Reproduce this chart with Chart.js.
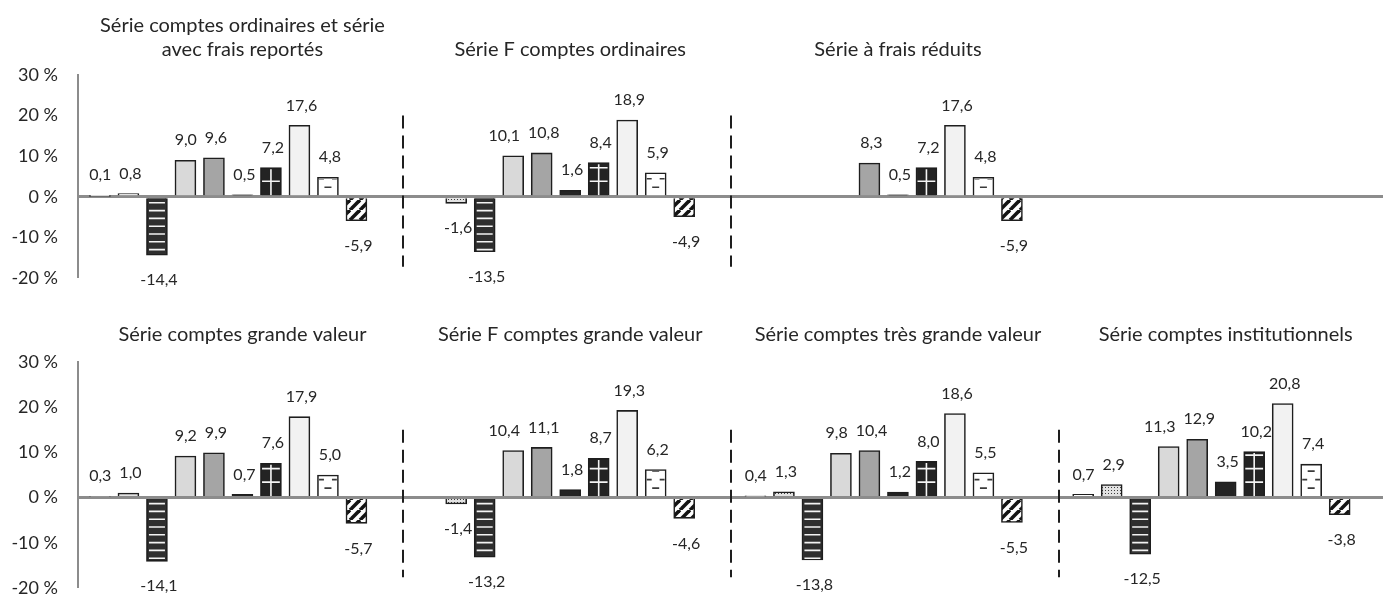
<!DOCTYPE html>
<html lang="fr">
<head>
<meta charset="utf-8">
<script src="https://cdn.jsdelivr.net/npm/chart.js@4.4.1/dist/chart.umd.min.js"></script>
<style>
  html, body { margin: 0; padding: 0; background: #fff; }
  #wrap { position: relative; width: 1383px; height: 598px; overflow: hidden; }
  #top, #bottom { position: absolute; left: 0; }
  #top { top: 0; }
  #bottom { top: 300px; }
</style>
</head>
<body>
<div id="wrap">
  <canvas id="top" width="1383" height="300"></canvas>
  <canvas id="bottom" width="1383" height="298"></canvas>
</div>
<script>
// ten bar types, same order in every panel
const categories = ['Cat. 1', 'Cat. 2', 'Cat. 3', 'Cat. 4', 'Cat. 5', 'Cat. 6', 'Cat. 7', 'Cat. 8', 'Cat. 9', 'Cat. 10'];
const yTicks = [-20, -10, 0, 10, 20, 30];

const ordinaires       = [0.1, 0.8, -14.4, 9.0, 9.6, 0.5, 7.2, 17.6, 4.8, -5.9];
const fOrdinaires      = [null, -1.6, -13.5, 10.1, 10.8, 1.6, 8.4, 18.9, 5.9, -4.9];
const fraisReduits     = [null, null, null, null, 8.3, 0.5, 7.2, 17.6, 4.8, -5.9];
const grandeValeur     = [0.3, 1.0, -14.1, 9.2, 9.9, 0.7, 7.6, 17.9, 5.0, -5.7];
const fGrandeValeur    = [null, -1.4, -13.2, 10.4, 11.1, 1.8, 8.7, 19.3, 6.2, -4.6];
const tresGrandeValeur = [0.4, 1.3, -13.8, 9.8, 10.4, 1.2, 8.0, 18.6, 5.5, -5.5];
const institutionnels  = [0.7, 2.9, -12.5, 11.3, 12.9, 3.5, 10.2, 20.8, 7.4, -3.8];

const topTitles = [
  ['Série comptes ordinaires et série', 'avec frais reportés'],
  ['Série F comptes ordinaires'],
  ['Série à frais réduits']
];
const bottomTitles = [
  ['Série comptes grande valeur'],
  ['Série F comptes grande valeur'],
  ['Série comptes très grande valeur'],
  ['Série comptes institutionnels']
];

// x axis: each panel takes 11.5 category widths
const PANEL_STEP = 11.5;
const X_MIN = 0.23;
const X_MAX = 46.02;
const TITLE_POS = 6;
const SEP_POS = 11.65;
const FONT = 'Lato, sans-serif';
const TEXT = '#262626';

function tile(w, h, draw) {
  const c = document.createElement('canvas');
  c.width = w;
  c.height = h;
  draw(c.getContext('2d'));
  return c;
}

function buildFills(ctx) {
  const dots = ctx.createPattern(tile(3, 3, g => {
    g.fillStyle = '#e2e2e2'; g.fillRect(0, 0, 3, 3);
    g.fillStyle = '#3c3c3c'; g.fillRect(1, 1, 1, 1);
  }), 'repeat');
  const diag = ctx.createPattern(tile(10, 10, g => {
    g.fillStyle = '#fff'; g.fillRect(0, 0, 10, 10);
    g.strokeStyle = '#141414'; g.lineWidth = 3.6;
    for (const o of [-10, 0, 10]) {
      g.beginPath(); g.moveTo(o, 10); g.lineTo(o + 10, 0); g.stroke();
    }
  }), 'repeat');
  return ['#ffffff', dots, '#2e2e2e', '#d9d9d9', '#a5a5a5', '#232323', '#232323', '#f2f2f2', '#ffffff', diag];
}

// white stripes / crosses / dashes inside some bars
const barOverlay = {
  id: 'barOverlay',
  afterDatasetsDraw(chart) {
    const ctx = chart.ctx;
    const data = chart.data.datasets[0].data;
    chart.getDatasetMeta(0).data.forEach((bar, i) => {
      const cat = data[i].cat;
      if (cat !== 2 && cat !== 6 && cat !== 8) return;
      const { x, y, base, width } = bar.getProps(['x', 'y', 'base', 'width'], true);
      const top = Math.min(y, base), bot = Math.max(y, base);
      const left = x - width / 2, right = x + width / 2;
      const dir = y < base ? -1 : 1;
      ctx.save();
      ctx.beginPath();
      ctx.rect(left + 1.6, top + 1.6, width - 3.2, bot - top - 1.6);
      ctx.clip();
      ctx.lineWidth = 1.6;
      if (cat === 2) {
        ctx.strokeStyle = '#f2f2f2';
        for (let d = 4.5; d < bot - top; d += 7.8) {
          const yy = base + dir * d;
          ctx.beginPath(); ctx.moveTo(left + 2.5, yy); ctx.lineTo(right - 2.5, yy); ctx.stroke();
        }
      } else if (cat === 6) {
        ctx.strokeStyle = '#f5f5f5';
        ctx.beginPath(); ctx.moveTo(x, top); ctx.lineTo(x, bot); ctx.stroke();
        for (let d = 14; d < bot - top - 1; d += 13.5) {
          const yy = base + dir * d;
          ctx.beginPath(); ctx.moveTo(left, yy); ctx.lineTo(right, yy); ctx.stroke();
        }
      } else {
        ctx.strokeStyle = '#3a3a3a';
        let k = 0;
        for (let d = 8; d < bot - top + 1; d += 8.5, k++) {
          const yy = base + dir * d;
          ctx.beginPath();
          if (k % 2 === 0) {
            ctx.moveTo(x - 3.5, yy); ctx.lineTo(x + 3.5, yy);
          } else {
            ctx.moveTo(left, yy); ctx.lineTo(x - 4, yy);
            ctx.moveTo(x + 4, yy); ctx.lineTo(right, yy);
          }
          ctx.stroke();
        }
      }
      ctx.restore();
    });
  }
};

// value labels outside the bar ends, nudged left when two collide
const valueLabels = {
  id: 'valueLabels',
  afterDraw(chart) {
    const ctx = chart.ctx;
    const data = chart.data.datasets[0].data;
    ctx.save();
    ctx.font = '16px ' + FONT;
    ctx.fillStyle = TEXT;
    ctx.textAlign = 'center';
    ctx.textBaseline = 'middle';
    const items = chart.getDatasetMeta(0).data.map((bar, i) => {
      const v = data[i].y;
      const { x, y, base } = bar.getProps(['x', 'y', 'base'], true);
      const txt = v.toFixed(1).replace('.', ',');
      return {
        txt,
        x: x + 2,
        y: v >= 0 ? Math.min(y, base) - 20 : Math.max(y, base) + 25,
        w: ctx.measureText(txt).width
      };
    });
    for (let i = items.length - 2; i >= 0; i--) {
      const a = items[i], b = items[i + 1];
      if (Math.abs(a.y - b.y) < 16) {
        const limit = b.x - b.w / 2 - 8 - a.w / 2;
        if (a.x > limit && b.x - a.x < 40) a.x = limit;
      }
    }
    items.forEach(it => ctx.fillText(it.txt, it.x, it.y));
    ctx.restore();
  }
};

const panelDecor = {
  id: 'panelDecor',
  afterDraw(chart, args, opts) {
    const ctx = chart.ctx;
    const xs = chart.scales.x, ys = chart.scales.y;
    ctx.save();
    // dashed separators
    ctx.strokeStyle = '#1e1e1e';
    ctx.lineWidth = 2;
    ctx.setLineDash([13, 7]);
    for (let p = 0; p < opts.separators; p++) {
      const sx = Math.round(xs.getPixelForValue(p * PANEL_STEP + SEP_POS));
      ctx.beginPath();
      ctx.moveTo(sx, ys.getPixelForValue(opts.sepFrom));
      ctx.lineTo(sx, ys.getPixelForValue(opts.sepTo));
      ctx.stroke();
    }
    ctx.setLineDash([]);
    // panel titles
    ctx.font = opts.titleSize + 'px ' + FONT;
    ctx.fillStyle = TEXT;
    ctx.textAlign = 'center';
    ctx.textBaseline = 'middle';
    opts.titles.forEach((lines, p) => {
      const tx = xs.getPixelForValue(p * PANEL_STEP + TITLE_POS);
      lines.forEach((line, j) => {
        ctx.fillText(line, tx, opts.titleY - (lines.length - 1 - j) * 24);
      });
    });
    ctx.restore();
  }
};

function makeRow(id, panels, titles, layout) {
  const canvas = document.getElementById(id);
  const ctx = canvas.getContext('2d');
  const fills = buildFills(ctx);
  const points = [];
  panels.forEach((values, p) => {
    values.forEach((v, i) => {
      if (v !== null) points.push({ x: p * PANEL_STEP + i + 1, y: v, cat: i, label: categories[i] });
    });
  });
  return new Chart(ctx, {
    type: 'bar',
    data: {
      datasets: [{
        data: points,
        backgroundColor: c => fills[c.raw ? c.raw.cat : 0],
        borderColor: '#1e1e1e',
        borderWidth: 1.6,
        borderSkipped: 'start',
        barThickness: 21
      }]
    },
    options: {
      responsive: false,
      animation: false,
      events: [],
      layout: { padding: { top: layout.top, bottom: layout.bottom, left: 0, right: 0 } },
      plugins: {
        legend: { display: false },
        tooltip: { enabled: false },
        panelDecor: {
          titles: titles,
          titleY: layout.titleY,
          titleSize: 20,
          separators: layout.separators,
          sepFrom: layout.sepFrom,
          sepTo: layout.sepTo
        }
      },
      scales: {
        x: {
          type: 'linear',
          min: X_MIN,
          max: X_MAX,
          offset: false,
          grid: { offset: false },
          display: false
        },
        y: {
          min: yTicks[0],
          max: yTicks[yTicks.length - 1],
          z: 1,
          afterFit: s => {
            s.width = 78;
            s.paddingTop = 0;
            s.paddingBottom = 0;
          },
          afterBuildTicks: s => { s.ticks = yTicks.map(v => ({ value: v })); },
          ticks: {
            padding: 20,
            color: TEXT,
            font: { family: FONT, size: 18 },
            callback: v => v + ' %'
          },
          grid: {
            drawTicks: false,
            color: c => (c.tick && c.tick.value === 0 ? '#8c8c8c' : 'rgba(0,0,0,0)'),
            lineWidth: c => (c.tick && c.tick.value === 0 ? 3 : 0)
          },
          border: { display: true, color: '#8c8c8c', width: 2 }
        }
      }
    },
    plugins: [barOverlay, valueLabels, panelDecor]
  });
}

makeRow('top', [ordinaires, fOrdinaires, fraisReduits], topTitles,
  { top: 75, bottom: 22, titleY: 50, separators: 2, sepFrom: 20, sepTo: -17.2 });
makeRow('bottom', [grandeValeur, fGrandeValeur, tresGrandeValeur, institutionnels], bottomTitles,
  { top: 62, bottom: 10, titleY: 35, separators: 3, sepFrom: 15, sepTo: -17.6 });
</script>
</body>
</html>
